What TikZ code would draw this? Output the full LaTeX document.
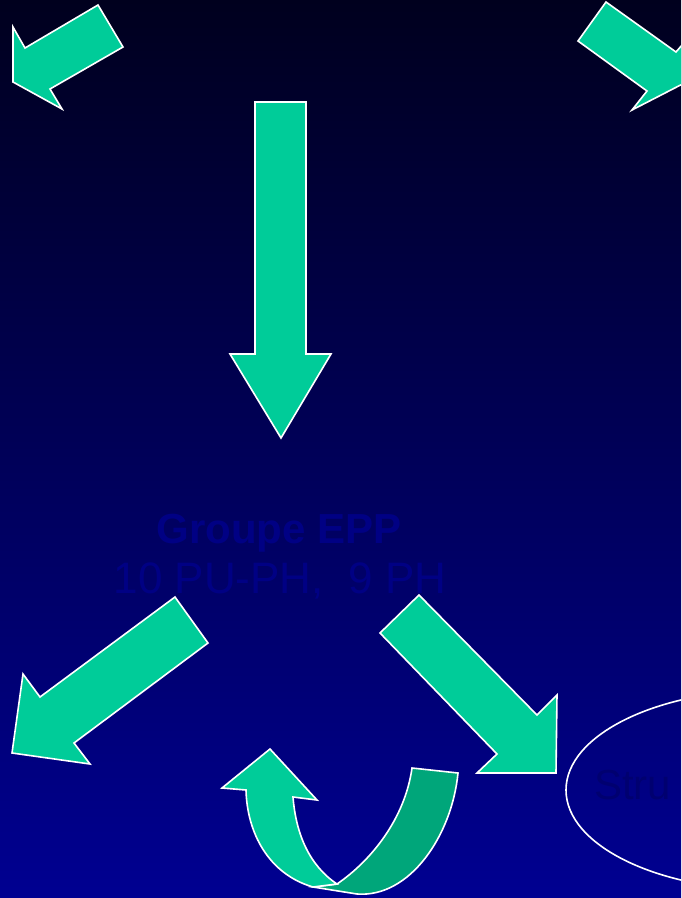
\documentclass[tikz,border=0pt]{standalone}
\usepackage{fontspec}
\setmainfont{Liberation Sans}
\definecolor{arrowgreen}{RGB}{0,204,153}
\definecolor{arrowdark}{RGB}{0,166,122}
\definecolor{skytop}{RGB}{0,0,30}
\definecolor{skybottom}{RGB}{0,0,145}
\definecolor{textblue}{RGB}{0,0,132}
\definecolor{strublue}{RGB}{0,0,112}
\begin{document}
\begin{tikzpicture}[x=1pt, y=-1pt,
  barrow/.style={draw=white, line width=1.6pt, fill=arrowgreen, line join=miter},
  darrow/.style={barrow, fill=arrowdark},
  oval/.style={draw=white, line width=1.6pt},
  lbl/.style={inner sep=0pt, anchor=base, text=textblue, font=\fontsize{42}{48}\selectfont},
]
  \useasboundingbox (0,0) rectangle (681,898);
  \shade[top color=skytop, bottom color=skybottom] (0,0) rectangle (681,898);

  \begin{scope}
    \clip (0,0) rectangle (681,898);
    % Top arrows
    \draw[barrow] (13,27) -- (25,48) -- (98,5) -- (123,47) -- (50,89) -- (62,109) -- (13,82) -- cycle;
    \draw[barrow] (606,2) -- (676,52) -- (695,30) -- (700,75) -- (632,110) -- (647,91) -- (578,41) -- cycle;
    \draw[barrow] (255,102) -- (306,102) -- (306,354) -- (331,354) -- (281,438) -- (230,354) -- (255,354) -- cycle;

    % Groupe
    \node[lbl, font=\fontsize{42}{48}\selectfont\bfseries] (groupe) at (279,543) {Groupe EPP};
    \node[lbl, font=\fontsize{44}{50}\selectfont] (effectif) at (280,593) {10 PU-PH,\ \ 9 PH};

    % Lower arrows
    \draw[barrow] (175,597) -- (208,643) -- (74,743) -- (90,764) -- (12,753) -- (23,674) -- (40,697) -- cycle;
    \draw[barrow] (419,595) -- (537,715) -- (557,695) -- (556,773) -- (477,773) -- (497,754) -- (380,633) -- cycle;

    % U-turn
    \draw[darrow] (412,768) -- (458,773) .. controls (452,835) and (410,898) .. (357,894)
      -- (313,887) -- (337,884) .. controls (372,860) and (405,818) .. (412,768) -- cycle;
    \draw[barrow] (246,790) -- (222,788) -- (270,749) -- (317,800) -- (293,797)
      .. controls (296,835) and (310,866) .. (337,884) -- (313,887)
      .. controls (268,874) and (247,832) .. (246,790) -- cycle;

    % Structures
    \draw[oval] (770,790) ellipse [x radius=204, y radius=100];
    \node[inner sep=0pt, anchor=west, text=strublue, font=\fontsize{42}{48}\selectfont] (structure) at (594,785) {Stru};
  \end{scope}
\end{tikzpicture}
\end{document}
